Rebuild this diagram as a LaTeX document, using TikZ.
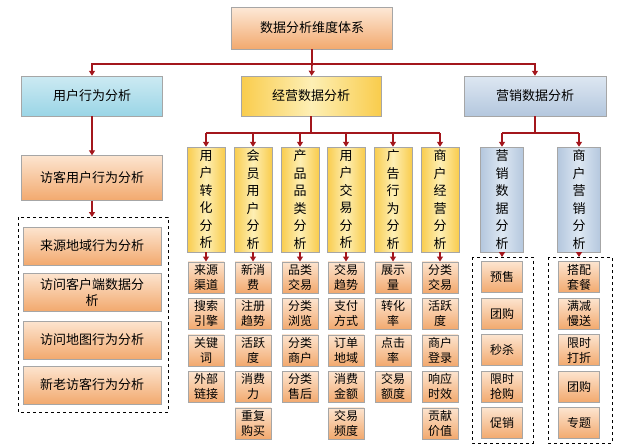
\documentclass[tikz,border=0pt]{standalone}
\usepackage{fontspec}
\setmainfont{Noto Sans CJK SC}
\usetikzlibrary{arrows.meta,positioning}
\definecolor{arrowred}{HTML}{A3161C}
\definecolor{peach}{HTML}{FBD3B0}
\definecolor{peachdark}{HTML}{F2A96E}
\definecolor{gold}{HTML}{F9CC4C}
\definecolor{goldlight}{HTML}{FDEFB5}
\definecolor{steel}{HTML}{B4C7DE}
\definecolor{steellight}{HTML}{DDE7F2}
\definecolor{cyanbox}{HTML}{9AD5E6}
\tikzset{
  base/.style={draw=black!35,inner sep=1pt,align=center,font=\fontsize{12}{15}\selectfont},
  peachbox/.style={base,top color=peach!60,bottom color=peachdark,
    minimum width=36pt,minimum height=31pt},
  goldbar/.style={base,left color=gold,right color=gold,middle color=goldlight,
    minimum width=38pt,minimum height=105pt,font=\fontsize{13}{17.5}\selectfont},
  steelbar/.style={base,left color=steel,right color=steel,middle color=steellight,
    minimum width=43pt,minimum height=105pt,font=\fontsize{13}{17.5}\selectfont},
  arr/.style={arrowred,line width=1.6pt,-{Triangle[length=5pt,width=6pt]}},
  lin/.style={arrowred,line width=1.6pt},
  group/.style={draw,dashed,thick}
}
\begin{document}
\begin{tikzpicture}[x=1pt,y=-1pt]
  \useasboundingbox (0,0) rectangle (629,447);
  % top levels
  \node[base,top color=peach!50,bottom color=peachdark,minimum width=161pt,minimum height=42pt,
    font=\fontsize{13}{15}\selectfont] (root) at (312,28) {数据分析维度体系};
  \node[base,top color=cyanbox!50,bottom color=cyanbox,minimum width=141pt,minimum height=40pt,
    font=\fontsize{13}{15}\selectfont] (user) at (92,96) {用户行为分析};
  \node[base,left color=gold,right color=gold,middle color=goldlight,minimum width=140pt,
    minimum height=40pt,font=\fontsize{13}{15}\selectfont] (biz) at (311,96) {经营数据分析};
  \node[base,top color=steellight,bottom color=steel,minimum width=142pt,minimum height=40pt,
    font=\fontsize{13}{15}\selectfont] (mkt) at (535,96) {营销数据分析};
  \coordinate (j0) at (312,64);
  \draw[lin] (root) -- (j0);
  \draw[arr] (j0) -| (user);
  \draw[arr] (j0) -| (mkt);
  \draw[arr] (j0) -- (biz);
  % left branch
  \node[peachbox,minimum width=141pt,minimum height=45pt,font=\fontsize{13}{15}\selectfont]
    (visit) at (92,178) {访客用户行为分析};
  \draw[arr] (user) -- (visit);
  \draw[group] (18,217) rectangle (168,412);
  \coordinate (vg) at (92,217);
  \draw[arr] (visit) -- (vg);
  \foreach \y/\t [count=\i] in {246/来源地域行为分析,292/{访问客户端数据分\\析},340/访问地图行为分析,385/新老访客行为分析}
    \node[peachbox,minimum width=138pt,minimum height=38pt,font=\fontsize{13}{16}\selectfont]
      (v\i) at (92,\y) {\t};
  % middle columns
  \coordinate (j1) at (311,133);
  \draw[lin] (biz) -- (j1);
  \draw[lin] (206,133) -- (440,133);
  \foreach \x/\t [count=\i] in {206/{用\\户\\转\\化\\分\\析},253/{会\\员\\用\\户\\分\\析},
      300/{产\\品\\品\\类\\分\\析},346/{用\\户\\交\\易\\分\\析},393/{广\\告\\行\\为\\分\\析},
      440/{商\\户\\经\\营\\分\\析}}{
    \node[goldbar] (c\i) at (\x,199.5) {\t};
    \draw[arr] (\x,133) -- (c\i);
  }
  \foreach \col/\list in {1/{来源\\渠道,搜索\\引擎,关键\\词,外部\\链接},
      2/{新消\\费,注册\\趋势,活跃\\度,消费\\力,重复\\购买},
      3/{品类\\交易,分类\\浏览,分类\\商户,分类\\售后},
      4/{交易\\趋势,支付\\方式,订单\\地域,消费\\金额,交易\\频度},
      5/{展示\\量,转化\\率,点击\\率,交易\\额度},
      6/{分类\\交易,活跃\\度,商户\\登录,响应\\时效,贡献\\价值}}{
    \foreach \t [count=\r] in \list
      \node[peachbox] (c\col r\r) at ([yshift=-25pt-(\r-1)*36.5pt]c\col.south) {\t};
    \draw[arr] (c\col) -- (c\col r1);
  }
  % right columns
  \coordinate (j2) at (535,133);
  \draw[lin] (mkt) -- (j2);
  \draw[lin] (502,133) -- (579,133);
  \node[steelbar] (m1) at (502,199.5) {营\\销\\数\\据\\分\\析};
  \node[steelbar] (m2) at (579,199.5) {商\\户\\营\\销\\分\\析};
  \draw[arr] (502,133) -- (m1);
  \draw[arr] (579,133) -- (m2);
  \draw[group] (472,257) rectangle (533,443);
  \draw[group] (548,257) rectangle (612,443);
  \foreach \t [count=\r] in {预售,团购,秒杀,限时\\抢购,促销}
    \node[peachbox,minimum width=41pt] (m1r\r) at ({502},{277+(\r-1)*36.5}) {\t};
  \foreach \t [count=\r] in {搭配\\套餐,满减\\慢送,限时\\打折,团购,专题}
    \node[peachbox,minimum width=41pt] (m2r\r) at ({579},{277+(\r-1)*36.5}) {\t};
  \draw[arr] (m1) -- (m1.south |- 0,257);
  \draw[arr] (m2) -- (m2.south |- 0,257);
\end{tikzpicture}
\end{document}
